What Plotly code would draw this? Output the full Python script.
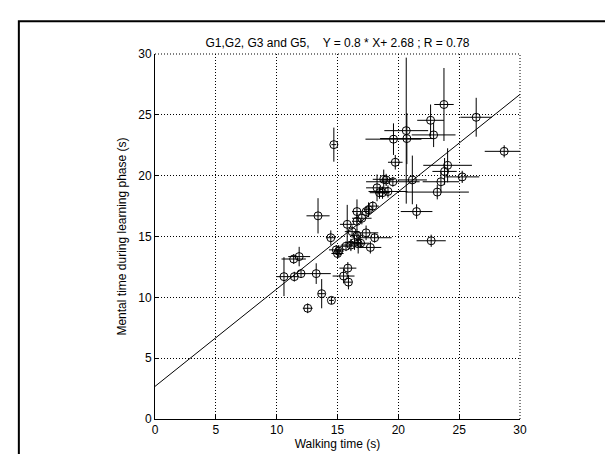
import plotly.graph_objects as go

# walking time (s), mental time (s) and their spreads
walk = [10.6, 11.4, 11.85, 11.45, 12.0, 13.25, 12.55, 13.7, 14.5, 13.4,
        14.7, 14.45, 14.9, 15.0, 15.1, 15.5, 15.85, 15.9, 15.8, 15.7,
        16.2, 16.1, 16.4, 16.7, 16.9, 16.6, 16.6, 16.6, 17.0, 17.35,
        17.55, 17.9, 17.35, 18.05, 17.7, 18.25, 18.45, 18.7, 18.8, 19.0,
        19.15, 19.55, 19.6, 19.75, 20.65, 20.7, 21.15, 21.5, 22.65, 22.9,
        23.75, 22.7, 23.2, 23.5, 23.8, 24.05, 25.25, 26.4, 28.7]
mental = [11.7, 13.15, 13.35, 11.7, 11.95, 11.95, 9.1, 10.3, 9.75, 16.7,
          22.55, 14.9, 13.9, 13.6, 13.8, 11.75, 12.4, 11.25, 16.0, 14.2,
          15.4, 14.3, 14.5, 14.4, 14.45, 15.1, 16.25, 17.05, 16.5, 17.05,
          17.2, 17.5, 15.3, 14.9, 14.1, 19.0, 18.6, 18.6, 19.7, 19.65,
          18.7, 19.5, 23.0, 21.1, 23.7, 23.05, 19.65, 17.05, 24.55, 23.35,
          25.85, 14.65, 18.65, 19.5, 20.35, 20.85, 19.9, 24.8, 22.0]
walk_err = [0.6, 1.0, 0.9, 0.3, 0.3, 1.2, 0.4, 0.3, 0.2, 0.95,
            0.2, 0.4, 0.6, 0.5, 0.4, 0.9, 0.7, 0.3, 0.6, 0.5,
            0.6, 0.8, 0.5, 0.6, 0.7, 0.5, 0.4, 0.4, 0.8, 0.3,
            0.4, 0.5, 1.0, 1.4, 0.9, 0.9, 0.8, 0.6, 0.9, 0.5,
            1.6, 2.2, 2.3, 0.6, 1.8, 2.2, 1.2, 1.3, 1.1, 1.8,
            0.8, 1.2, 2.6, 1.5, 1.0, 2.0, 1.4, 1.3, 1.6]
mental_err = [1.6, 0.4, 0.8, 0.4, 0.3, 0.85, 0.4, 1.2, 0.3, 1.45,
              1.4, 0.6, 0.4, 0.4, 0.5, 0.6, 0.5, 0.6, 1.6, 0.4,
              0.5, 0.5, 0.6, 0.8, 0.4, 0.5, 0.7, 1.0, 0.5, 0.4,
              0.6, 0.4, 0.6, 0.4, 0.5, 1.1, 0.5, 0.5, 0.8, 0.5,
              0.5, 0.4, 1.3, 0.6, 6.0, 2.1, 2.0, 0.6, 1.3, 1.0,
              3.0, 0.5, 0.6, 0.8, 1.1, 1.4, 0.5, 1.6, 0.5]

slope = 0.8
intercept = 2.68
fit_x = [0, 30]
fit_y = [slope * v + intercept for v in fit_x]

ticks = [0, 5, 10, 15, 20, 25, 30]

fig = go.Figure()

fig.add_trace(go.Scatter(x=fit_x, y=fit_y, mode='lines',
                         line=dict(color='black', width=1),
                         hoverinfo='skip'))

fig.add_trace(go.Scatter(x=walk, y=mental, mode='markers',
                         marker=dict(symbol='circle-open', size=8,
                                     color='black', line=dict(width=1)),
                         error_x=dict(type='data', array=walk_err,
                                      color='black', thickness=1, width=0),
                         error_y=dict(type='data', array=mental_err,
                                      color='black', thickness=1, width=0)))

axis_style = dict(range=[0, 30], tickvals=ticks, showgrid=True,
                  gridcolor='black', griddash='1px,2px', gridwidth=1,
                  showline=True, linecolor='black', linewidth=1,
                  ticks='inside', ticklen=4, tickcolor='black',
                  zeroline=False, fixedrange=True,
                  tickfont=dict(size=12, color='black'))

fig.update_xaxes(**axis_style,
                 title=dict(text='Walking time (s)', standoff=3,
                            font=dict(size=12, color='black')))
fig.update_yaxes(**axis_style,
                 title=dict(text='Mental time during learning phase (s)',
                            standoff=9, font=dict(size=12, color='black')))

# dotted top and right edges of the axes box
fig.add_shape(type='line', xref='paper', yref='paper', x0=0, x1=1, y0=1, y1=1,
              line=dict(color='black', width=1, dash='1px,2px'))
fig.add_shape(type='line', xref='paper', yref='paper', x0=1, x1=1, y0=0, y1=1,
              line=dict(color='black', width=1, dash='1px,2px'))
# frame of the figure window (cut by the crop on the right and bottom)
fig.add_shape(type='rect', xref='paper', yref='paper',
              x0=-0.373, x1=1.35, y0=1.09, y1=-0.2,
              line=dict(color='black', width=2))

fig.update_layout(
    width=613, height=454,
    margin=dict(l=147, r=101, t=46, b=43),
    paper_bgcolor='white', plot_bgcolor='white',
    font=dict(family='Liberation Sans, Arial', size=12, color='black'),
    title=dict(text='G1,G2, G3 and G5,    Y = 0.8 * X+ 2.68 ; R = 0.78',
               x=0.5, xref='paper', y=0.923, yanchor='middle',
               font=dict(size=12, color='black')),
    showlegend=False
)

fig.write_html("out.html")
